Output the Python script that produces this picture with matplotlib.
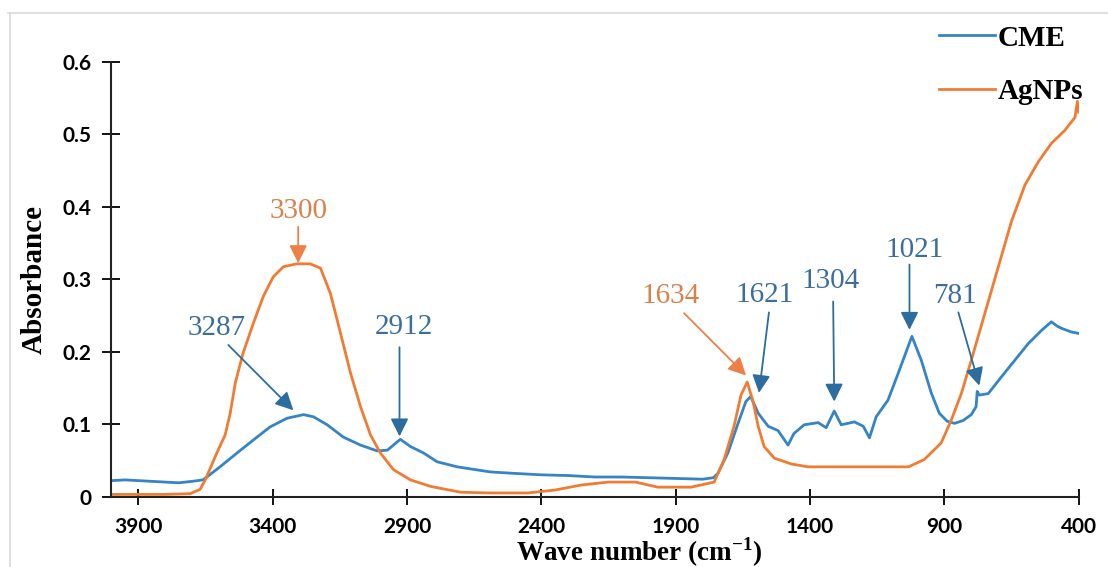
import numpy as np
import matplotlib
matplotlib.use('Agg')
import matplotlib.pyplot as plt
from matplotlib.lines import Line2D

# FTIR spectra (wave number in cm-1, absorbance)
cme_wn = [4000, 3950, 3900, 3850, 3800, 3750, 3700, 3660, 3645, 3596, 3533, 3472, 3410,
          3347, 3285, 3248, 3197, 3137, 3073, 3011, 2973, 2925, 2887, 2838, 2788, 2713,
          2590, 2500, 2400, 2300, 2200, 2100, 2000, 1900, 1800, 1760, 1743, 1706, 1669,
          1639, 1621, 1593, 1556, 1519, 1482, 1460, 1422, 1370, 1340, 1310, 1284, 1235,
          1202, 1179, 1154, 1110, 1072, 1035, 1021, 986, 949, 919, 890, 862, 830, 800,
          782, 778, 770, 737, 688, 638, 588, 539, 502, 480, 464, 427, 400]
cme_abs = [0.022, 0.023, 0.022, 0.021, 0.020, 0.019, 0.021, 0.023, 0.027, 0.041, 0.060, 0.078, 0.096,
           0.108, 0.113, 0.110, 0.099, 0.082, 0.071, 0.063, 0.064, 0.079, 0.069, 0.060, 0.048, 0.041,
           0.034, 0.032, 0.030, 0.029, 0.027, 0.027, 0.026, 0.025, 0.024, 0.026, 0.032, 0.060, 0.100,
           0.131, 0.138, 0.115, 0.097, 0.091, 0.071, 0.087, 0.099, 0.102, 0.095, 0.118, 0.099, 0.103,
           0.097, 0.081, 0.110, 0.133, 0.170, 0.207, 0.221, 0.188, 0.143, 0.115, 0.104, 0.101, 0.105, 0.113,
           0.124, 0.145, 0.140, 0.142, 0.165, 0.188, 0.211, 0.229, 0.241, 0.235, 0.232, 0.227, 0.225]

agnp_wn = [4000, 3900, 3800, 3707, 3670, 3651, 3608, 3577, 3558, 3539, 3510, 3472, 3435,
           3398, 3360, 3310, 3260, 3222, 3185, 3148, 3110, 3073, 3036, 2999, 2950, 2887,
           2812, 2700, 2590, 2450, 2350, 2250, 2150, 2050, 1967, 1843, 1757, 1720, 1683,
           1657, 1634, 1612, 1593, 1571, 1533, 1470, 1407, 1200, 1034, 975, 912, 875, 837,
           800, 750, 700, 650, 600, 550, 502, 452, 414, 405, 400]
agnp_abs = [0.003, 0.003, 0.003, 0.004, 0.010, 0.023, 0.060, 0.085, 0.115, 0.157, 0.198, 0.239, 0.276,
            0.303, 0.317, 0.321, 0.321, 0.315, 0.280, 0.226, 0.170, 0.124, 0.085, 0.060, 0.037, 0.023,
            0.014, 0.006, 0.005, 0.005, 0.009, 0.016, 0.020, 0.020, 0.013, 0.013, 0.020, 0.051, 0.097,
            0.140, 0.158, 0.131, 0.097, 0.069, 0.053, 0.045, 0.041, 0.041, 0.041, 0.051, 0.074, 0.105, 0.142,
            0.188, 0.252, 0.316, 0.380, 0.430, 0.462, 0.487, 0.505, 0.523, 0.545, 0.530]

# peak labels: text, text position, arrow tail, arrow head, series
peak_labels = ['3300', '3287', '2912', '1634', '1621', '1304', '1021', '781']
label_pos = [(3305, 0.394), (3607, 0.232), (2913, 0.234), (1921, 0.277),
             (1571, 0.278), (1322, 0.297), (1012, 0.340), (859, 0.277)]
arrow_tail = [(3305, 0.372), (3565, 0.209), (2928, 0.206), (1869, 0.253),
              (1553, 0.254), (1314, 0.269), (1030, 0.320), (848, 0.254)]
arrow_head = [(3305, 0.322), (3323, 0.119), (2928, 0.083), (1638, 0.167),
              (1590, 0.143), (1310, 0.131), (1030, 0.230), (770, 0.153)]
label_series = ['AgNPs', 'CME', 'CME', 'AgNPs', 'CME', 'CME', 'CME', 'CME']

xticks = [3900, 3400, 2900, 2400, 1900, 1400, 900, 400]
yticks = [0, 0.1, 0.2, 0.3, 0.4, 0.5, 0.6]
ytick_labels = ['0', '0.1', '0.2', '0.3', '0.4', '0.5', '0.6']

blue = '#3584c4'
orange = '#f07c34'
text_col = {'CME': '#3b6e9c', 'AgNPs': '#d9804c'}
arrow_col = {'CME': '#2a6d9e', 'AgNPs': '#ec8046'}

plt.rcParams['mathtext.fontset'] = 'custom'
plt.rcParams['mathtext.rm'] = 'Liberation Serif:bold'
plt.rcParams['mathtext.bf'] = 'Liberation Serif:bold'
serif = ['Liberation Serif', 'DejaVu Serif']

fig = plt.figure(figsize=(11.08, 5.67), dpi=100)
ax = fig.add_axes([0.1006, 0.1242, 0.8730, 0.7673])

ax.plot(cme_wn, cme_abs, color=blue, lw=2.0, label='CME')
ax.plot(agnp_wn, agnp_abs, color=orange, lw=2.0, label='AgNPs')

for lab, tp, tail, head, ser in zip(peak_labels, label_pos, arrow_tail, arrow_head, label_series):
    ax.text(tp[0], tp[1], lab, ha='center', va='center', fontsize=21,
            family=serif, color=text_col[ser])
    ax.annotate('', xy=head, xytext=tail,
                arrowprops=dict(arrowstyle='-|>,head_length=0.6,head_width=0.3',
                                color=arrow_col[ser], lw=1.3, mutation_scale=18,
                                shrinkA=0, shrinkB=0))

ax.set_xlim(4000, 400)
ax.set_ylim(0, 0.6)
ax.set_xticks(xticks)
ax.set_xticklabels([str(t) for t in xticks])
ax.set_yticks(yticks)
ax.set_yticklabels(ytick_labels)

for side in ['top', 'right']:
    ax.spines[side].set_visible(False)
for side in ['left', 'bottom']:
    ax.spines[side].set_linewidth(1.5)
    ax.spines[side].set_color('#222222')

ax.tick_params(axis='y', direction='inout', length=13, width=1.3, pad=8)
ax.tick_params(axis='x', direction='inout', length=12, width=1.3, pad=9)
for t in ax.get_xticklabels() + ax.get_yticklabels():
    t.set_fontfamily(['Lato', 'DejaVu Sans'])
    t.set_fontweight('bold')
    t.set_fontsize(15)

ax.set_ylabel('Absorbance', fontsize=21, fontweight='bold', family=serif, va='center')
ax.yaxis.set_label_coords(-0.080, 0.5)
ax.set_xlabel('Wave number (cm$^{-1}$)', fontsize=19.5, fontweight='bold', family=serif, va='center')
ax.xaxis.set_label_coords(0.546, -0.128)

leg = ax.legend(loc='upper right', bbox_to_anchor=(1098 / 1108, 1 - 10 / 567),
                bbox_transform=fig.transFigure, frameon=False, borderpad=0,
                handlelength=1.9, handletextpad=0.1, labelspacing=0.9,
                prop={'family': serif, 'weight': 'bold', 'size': 21})

# light grey chart-area border like the original export
fig.add_artist(Line2D([8 / 1108, 1], [1 - 13 / 567, 1 - 13 / 567], transform=fig.transFigure,
                      color='#d9d9d9', lw=1.2))
fig.add_artist(Line2D([10 / 1108, 10 / 1108], [0, 1 - 13 / 567], transform=fig.transFigure,
                      color='#d9d9d9', lw=1.2))

fig.savefig('out.png', dpi=100)
